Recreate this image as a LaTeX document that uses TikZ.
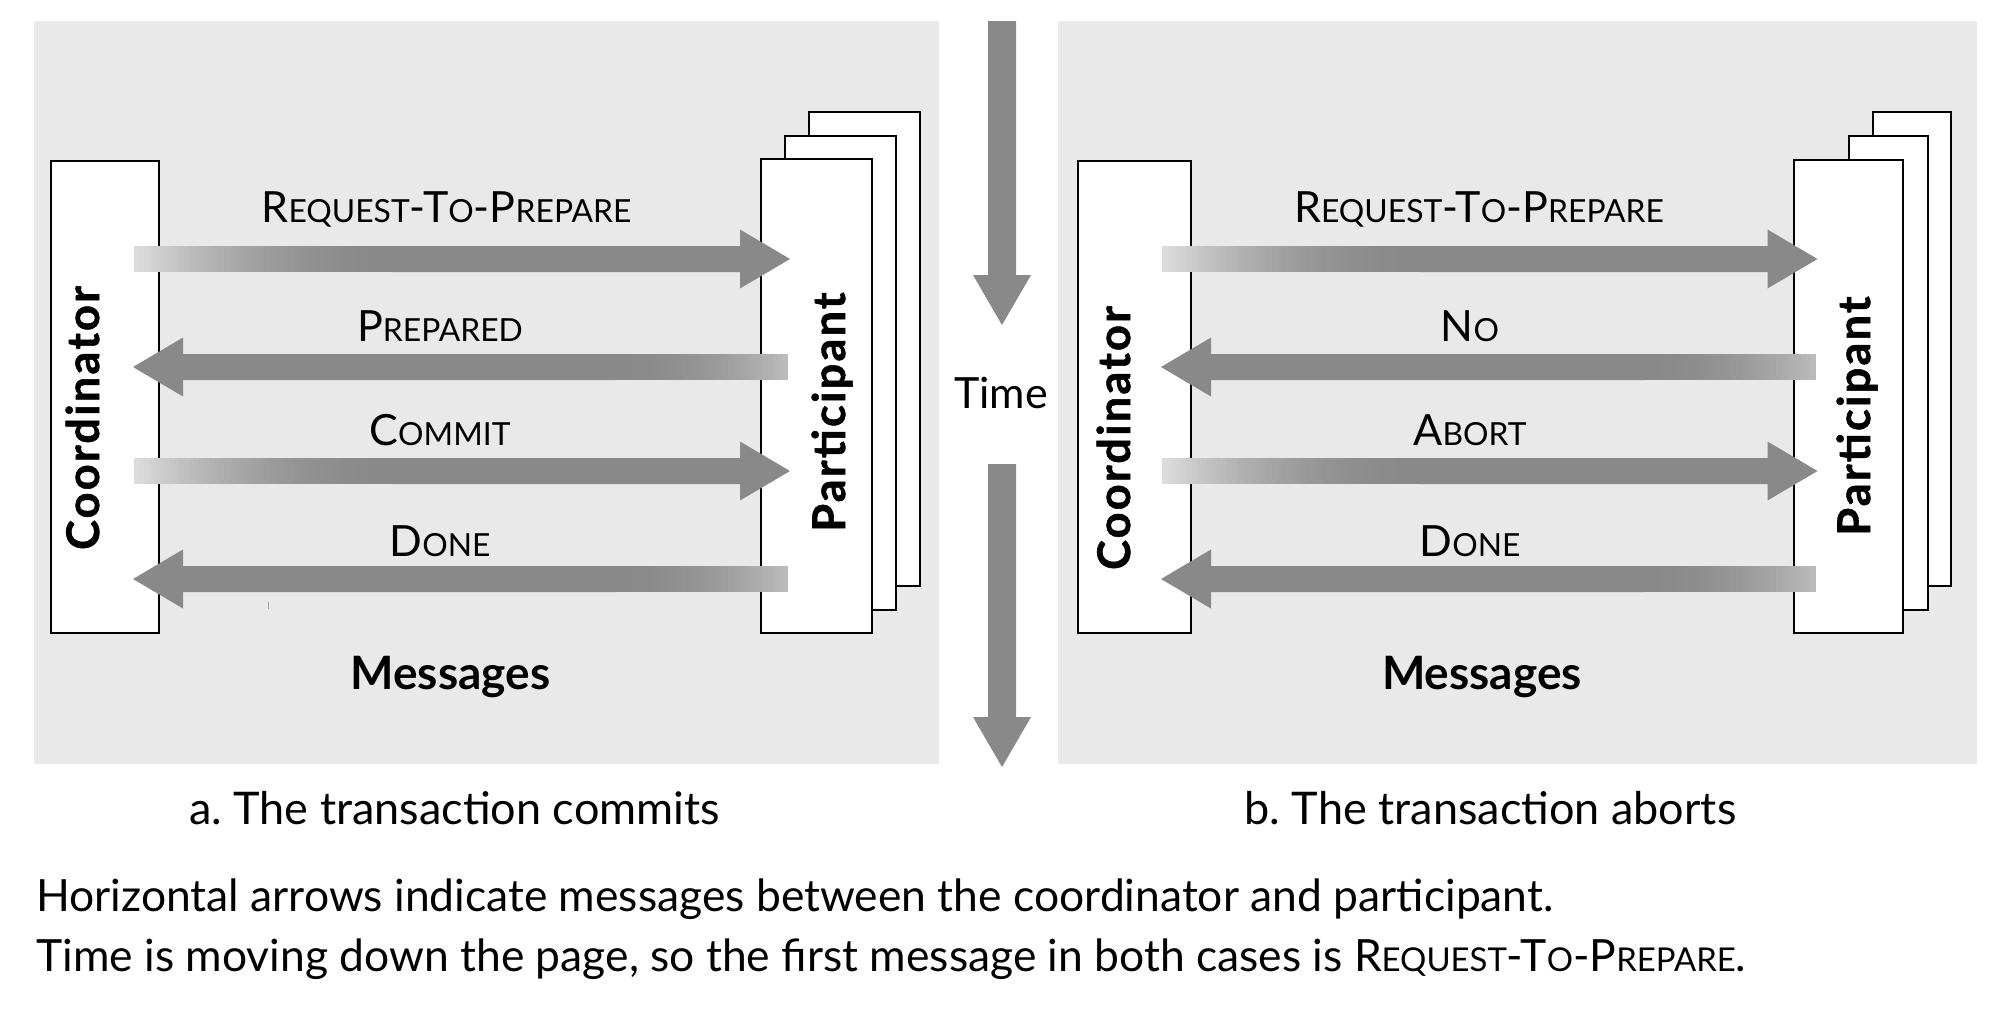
\documentclass[tikz,border=0pt]{standalone}
\usepackage{fontspec}
\setmainfont{Lato}
\newfontfamily\wideb{Lato}[LetterSpace=5,BoldFeatures={FakeBold=1.2}]
\usetikzlibrary{calc}
\definecolor{panelgray}{HTML}{E9E9E9}
\definecolor{arrdark}{HTML}{898989}
\definecolor{tailR}{HTML}{DCDCDC}
\definecolor{tailL}{HTML}{BBBBBB}
\makeatletter
\newcommand\SCx[1]{{\fontsize{\the\dimexpr0.74\dimexpr\f@size pt\relax\relax}{\baselineskip}\selectfont #1}}
\makeatother
\newcommand\reqtp{R\SCx{EQUEST}-T\SCx{O}-P\SCx{REPARE}}
% right-pointing message arrow: #1 tail coordinate, #2 tip coordinate
\newcommand\msgR[2]{%
  \fill[arrdark] ($(#1)+(258,-13)$) -- ($(#2)+(-50,-13)$) -- ($(#2)+(-50,-29.5)$) -- (#2)
    -- ($(#2)+(-50,29.5)$) -- ($(#2)+(-50,13)$) -- ($(#1)+(258,13)$) -- cycle;
  \foreach \i in {0,...,51}{%
    \pgfmathsetmacro\pct{100*(1-(1-\i/51)^2)}%
    \fill[arrdark!\pct!tailR] ($(#1)+(5*\i,-13)$) rectangle ($(#1)+(5*\i+6,13)$);}}
% left-pointing message arrow: #1 tail coordinate (right), #2 tip coordinate (left)
\newcommand\msgL[2]{%
  \fill[arrdark] ($(#1)+(-173,-13)$) -- ($(#2)+(50,-13)$) -- ($(#2)+(50,-29.5)$) -- (#2)
    -- ($(#2)+(50,29.5)$) -- ($(#2)+(50,13)$) -- ($(#1)+(-173,13)$) -- cycle;
  \foreach \i in {0,...,34}{%
    \pgfmathsetmacro\pct{100*(1-(1-\i/34)^2)}%
    \fill[arrdark!\pct!tailL] ($(#1)+(-5*\i,-13)$) rectangle ($(#1)+(-5*\i-6,13)$);}}
% downward time arrow: #1 top coordinate, #2 tip coordinate
\newcommand\timearrow[2]{%
  \fill[arrdark] ($(#1)+(-14,0)$) -- ($(#2)+(-14,-50)$) -- ($(#2)+(-29,-50)$) -- (#2)
    -- ($(#2)+(29,-50)$) -- ($(#2)+(14,-50)$) -- ($(#1)+(14,0)$) -- cycle;}
\begin{document}
\begin{tikzpicture}[x=0.5pt,y=-0.5pt,
  panel/.style={fill=panelgray,draw=none},
  box/.style={draw=black,line width=1pt,fill=white,inner sep=0pt,anchor=north west},
  lbl/.style={anchor=base,inner sep=0pt,font=\fontsize{21.5pt}{24pt}\selectfont},
  captext/.style={anchor=base,inner sep=0pt,font=\fontsize{22.5pt}{25pt}\selectfont},
  txtline/.style={anchor=base west,inner sep=0pt,font=\fontsize{22.2pt}{25pt}\selectfont},
  actor/.style={anchor=base,inner sep=0pt,rotate=90,font=\wideb\bfseries\fontsize{22.5pt}{24pt}\selectfont},
  msgs/.style={anchor=base,inner sep=0pt,font=\bfseries\fontsize{23pt}{25pt}\selectfont}]
\useasboundingbox (0,0) rectangle (2012,1024);
\fill[white] (0,0) rectangle (2012,1024);
% panels
\fill[panel] (34,21) rectangle (939,764);
\fill[panel] (1058,21) rectangle (1977,764);

% ---------- left panel (commit) ----------
\node[box,minimum width=54pt,minimum height=236pt] (coA) at (50,160) {};
\node[box,minimum width=55.5pt,minimum height=237pt] (paA3) at (808,111) {};
\node[box,minimum width=55.5pt,minimum height=237pt] (paA2) at (784,135) {};
\node[box,minimum width=55.5pt,minimum height=237pt] (paA) at (760,158) {};

\coordinate (a1s) at (134,259);  \coordinate (a1e) at (790,259);
\coordinate (a2s) at (788,367);  \coordinate (a2e) at (133,367);
\coordinate (a3s) at (134,471);  \coordinate (a3e) at (790,471);
\coordinate (a4s) at (788,579);  \coordinate (a4e) at (133,579);
\msgR{a1s}{a1e}
\msgL{a2s}{a2e}
\msgR{a3s}{a3e}
\msgL{a4s}{a4e}
\draw[arrdark!80,line width=0.5pt] (268,602) -- (268,609);

\node[lbl] (la1) at (446.5,222) {\reqtp};
\node[lbl] (la2) at (440,341) {P\SCx{REPARED}};
\node[lbl] (la3) at (440,445) {C\SCx{OMMIT}};
\node[lbl] (la4) at (440,556) {D\SCx{ONE}};

\node[actor] (tcoA) at (99,418) {Coordinator};
\node[actor] (tpaA) at (845,412) {Participant};
\node[msgs] (msA) at (450.5,689) {Messages};
\node[captext] (capA) at (454.5,824) {a.\ The transaction commits};

% ---------- right panel (abort) ----------
\node[box,minimum width=56.5pt,minimum height=236pt] (coB) at (1077,160) {};
\node[box,minimum width=39pt,minimum height=237pt] (paB3) at (1872,111) {};
\node[box,minimum width=39.5pt,minimum height=237pt] (paB2) at (1848,135) {};
\node[box,minimum width=54.5pt,minimum height=236.5pt] (paB) at (1793,159) {};

\coordinate (b1s) at (1162,259);  \coordinate (b1e) at (1817.5,259);
\coordinate (b2s) at (1816,367);  \coordinate (b2e) at (1161,367);
\coordinate (b3s) at (1162,471);  \coordinate (b3e) at (1817.5,471);
\coordinate (b4s) at (1816,579);  \coordinate (b4e) at (1161,579);
\msgR{b1s}{b1e}
\msgL{b2s}{b2e}
\msgR{b3s}{b3e}
\msgL{b4s}{b4e}

\node[lbl] (lb1) at (1479,222) {\reqtp};
\node[lbl] (lb2) at (1470,341) {N\SCx{O}};
\node[lbl] (lb3) at (1470,445) {A\SCx{BORT}};
\node[lbl] (lb4) at (1470,556) {D\SCx{ONE}};

\node[actor] (tcoB) at (1130,438) {Coordinator};
\node[actor] (tpaB) at (1870,416) {Participant};
\node[msgs] (msB) at (1482,689) {Messages};
\node[captext] (capB) at (1490.5,824) {b.\ The transaction aborts};

% ---------- time arrow ----------
\coordinate (t1s) at (1002,21);  \coordinate (t1e) at (1002,325);
\coordinate (t2s) at (1002,464); \coordinate (t2e) at (1002,767);
\timearrow{t1s}{t1e}
\timearrow{t2s}{t2e}
\node[lbl] (time) at (1001,408) {Time};

% ---------- explanation ----------
\node[txtline] (ex1) at (36,911) {Horizontal arrows indicate messages between the coordinator and participant.};
\node[txtline] (ex2) at (36,971) {Time is moving down the page, so the first message in both cases is \reqtp.};
\end{tikzpicture}
\end{document}
